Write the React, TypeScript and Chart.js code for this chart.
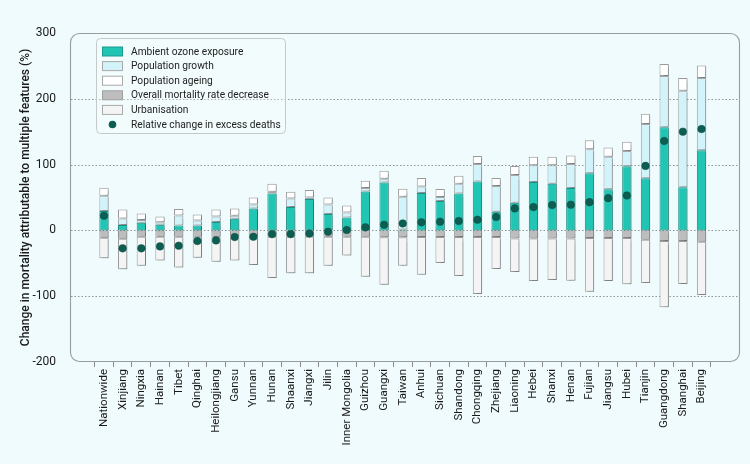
import React, { useEffect, useRef } from "react";
import { Chart, registerables } from "chart.js";

Chart.register(...registerables);

const categories = [
  "Nationwide", "Xinjiang", "Ningxia", "Hainan", "Tibet", "Qinghai", "Heilongjiang", "Gansu",
  "Yunnan", "Hunan", "Shaanxi", "Jiangxi", "Jilin", "Inner Mongolia", "Guizhou", "Guangxi",
  "Taiwan", "Anhui", "Sichuan", "Shandong", "Chongqing", "Zhejiang", "Liaoning", "Hebei",
  "Shanxi", "Henan", "Fujian", "Jiangsu", "Hubei", "Tianjin", "Guangdong", "Shanghai", "Beijing",
];

const ozoneExposure = [
  29.4, 8.1, 11.6, 8.6, 7.6, 7.6, 12.7, 17.7, 33.4, 56.2, 35.4, 47.6, 24.8, 19.7, 59.2, 72.9,
  1.5, 56.7, 44.6, 56.2, 74.4, 28.4, 42.0, 73.4, 70.9, 64.3, 86.9, 62.6, 97.5, 79.3, 156.6, 65.7, 121.7,
];
const populationGrowth = [
  23.3, 10.1, 4.1, 3.6, 15.2, 7.6, 8.6, 4.6, 6.1, 2.5, 13.2, 2.5, 14.7, 7.6, 5.1, 5.6,
  49.6, 10.1, 6.0, 14.7, 26.4, 38.9, 42.1, 25.8, 28.3, 36.5, 36.3, 49.5, 23.2, 82.3, 78.2, 146.4, 110.1,
];
const populationAgeing = [
  12.1, 13.7, 10.1, 9.1, 9.6, 9.1, 10.6, 11.1, 10.6, 12.2, 10.1, 11.2, 10.6, 10.7, 11.1, 12.1,
  12.2, 12.7, 12.2, 12.1, 12.1, 12.2, 13.6, 12.7, 12.7, 13.1, 13.7, 13.7, 14.1, 15.7, 18.2, 19.7, 18.7,
];
const mortalityDecrease = [
  -11.1, -12.7, -9.6, -9.6, -9.6, -9.6, -9.6, -9.1, -9.6, -9.6, -9.6, -9.6, -9.6, -9.6, -9.6, -10.6,
  -10.6, -10.1, -10.1, -10.1, -10.1, -10.1, -12.2, -12.2, -12.2, -12.2, -11.6, -11.6, -11.6, -14.1, -16.2, -16.2, -17.2,
];
const urbanisation = [
  -31.4, -46.5, -44.0, -36.0, -46.6, -31.9, -38.0, -36.5, -43.1, -62.8, -55.7, -55.7, -44.1, -28.4, -60.8, -71.9,
  -43.1, -57.2, -39.5, -59.3, -86.6, -48.6, -51.1, -64.8, -63.2, -64.3, -81.8, -65.2, -70.2, -65.7, -100.5, -65.1, -80.8,
];
const relativeChange = [
  22.3, -27.3, -27.3, -24.3, -23.3, -16.2, -15.2, -10.1, -9.6, -5.6, -5.6, -4.6, -2.0, 0.5, 4.6, 8.6,
  10.6, 12.2, 13.2, 14.2, 16.2, 20.3, 33.4, 35.4, 38.5, 39.0, 42.9, 49.0, 53.0, 98.0, 135.9, 150.0, 154.0,
];

const yMin = -200;
const yMax = 300;
const yStep = 100;
const xMin = -1.82;
const xMax = 34.06;

const BG = "#effbfc";
const FONT = "Roboto";

const legendItems = [
  { label: "Ambient ozone exposure", fill: "#20c5b4", stroke: "#1a9a8c", dot: false },
  { label: "Population growth", fill: "#d3f3fb", stroke: "#a9a9a9", dot: false },
  { label: "Population ageing", fill: "#ffffff", stroke: "#a9a9a9", dot: false },
  { label: "Overall mortality rate decrease", fill: "#bdbdbd", stroke: "#a0a0a0", dot: false },
  { label: "Urbanisation", fill: "#f4f4f4", stroke: "#a9a9a9", dot: false },
  { label: "Relative change in excess deaths", fill: "#0b5e51", stroke: "#0b5e51", dot: true },
];

const toXY = (arr: number[]) => arr.map((v, i) => ({ x: i, y: v }));

function roundedPath(ctx: CanvasRenderingContext2D, x: number, y: number, w: number, h: number, r: number) {
  ctx.beginPath();
  ctx.moveTo(x + r, y);
  ctx.lineTo(x + w - r, y);
  ctx.arcTo(x + w, y, x + w, y + r, r);
  ctx.lineTo(x + w, y + h - r);
  ctx.arcTo(x + w, y + h, x + w - r, y + h, r);
  ctx.lineTo(x + r, y + h);
  ctx.arcTo(x, y + h, x, y + h - r, r);
  ctx.lineTo(x, y + r);
  ctx.arcTo(x, y, x + r, y, r);
  ctx.closePath();
}

const framePlugin = {
  id: "frame",
  beforeDraw(chart: any) {
    const { ctx, width, height } = chart;
    ctx.save();
    ctx.fillStyle = BG;
    ctx.fillRect(0, 0, width, height);
    ctx.restore();
  },
  beforeDatasetsDraw(chart: any) {
    const { ctx, chartArea, scales } = chart;
    const y = scales.y;
    ctx.save();
    ctx.strokeStyle = "#8f9696";
    ctx.lineWidth = 1;
    ctx.setLineDash([1.5, 2]);
    y.ticks.forEach((t: any) => {
      if (t.value === yMin || t.value === yMax) return;
      const py = Math.round(y.getPixelForValue(t.value)) + 0.5;
      ctx.beginPath();
      ctx.moveTo(chartArea.left + 1, py);
      ctx.lineTo(chartArea.right - 1, py);
      ctx.stroke();
    });
    ctx.restore();
  },
  beforeDatasetDraw(chart: any, args: any) {
    const ds = chart.data.datasets[args.index];
    if (ds.type === "line") return;
    const ctx = chart.ctx;
    ctx.save();
    ctx.shadowColor = "rgba(0,0,0,0.18)";
    ctx.shadowOffsetX = 2;
    ctx.shadowOffsetY = 1;
    ctx.shadowBlur = 1;
  },
  afterDatasetDraw(chart: any, args: any) {
    const ds = chart.data.datasets[args.index];
    if (ds.type === "line") return;
    chart.ctx.restore();
  },
  afterDraw(chart: any) {
    const { ctx, chartArea } = chart;
    const left = Math.round(chartArea.left);
    const top = Math.round(chartArea.top);
    const right = Math.round(chartArea.right);
    const bottom = Math.round(chartArea.bottom);
    ctx.save();
    ctx.setLineDash([]);
    ctx.shadowColor = "rgba(0,0,0,0)";
    ctx.globalAlpha = 1;
    ctx.strokeStyle = "#959d9d";
    ctx.lineWidth = 1.1;
    roundedPath(ctx, left + 0.5, top + 0.5, right - left - 1, bottom - top - 1, 9);
    ctx.stroke();

    ctx.lineWidth = 1;
    ctx.fillStyle = "rgba(255,255,255,0.25)";
    ctx.strokeStyle = "#c4caca";
    roundedPath(ctx, 96.5, 38.5, 189, 95, 4);
    ctx.fill();
    ctx.stroke();
    ctx.font = `10.2px ${FONT}`;
    ctx.textBaseline = "middle";
    ctx.textAlign = "left";
    legendItems.forEach((it, i) => {
      const cy = 51.5 + i * 14.6;
      if (it.dot) {
        ctx.beginPath();
        ctx.arc(112.5, cy, 3.8, 0, Math.PI * 2);
        ctx.fillStyle = it.fill;
        ctx.fill();
      } else {
        ctx.fillStyle = it.fill;
        ctx.strokeStyle = it.stroke;
        ctx.fillRect(102.5, cy - 4.5, 20, 9);
        ctx.strokeRect(102.5, cy - 4.5, 20, 9);
      }
      ctx.fillStyle = "#222222";
      ctx.fillText(it.label, 131, cy + 0.5);
    });
    ctx.restore();
  },
};

export default function App() {
  const canvasRef = useRef<HTMLCanvasElement | null>(null);

  useEffect(() => {
    document.body.style.margin = "0";
    document.body.style.background = BG;
    const canvas = canvasRef.current;
    if (!canvas) return;

    const barCommon = {
      type: "bar" as const,
      borderWidth: 1,
      borderSkipped: false,
      barPercentage: 0.5,
      categoryPercentage: 1,
      stack: "s",
      order: 1,
    };

    const chart = new Chart(canvas, {
      type: "bar",
      data: {
        datasets: [
          { ...barCommon, label: "Ambient ozone exposure", data: toXY(ozoneExposure), backgroundColor: "#20c5b4", borderColor: "#1a8f83" },
          { ...barCommon, label: "Population growth", data: toXY(populationGrowth), backgroundColor: "#d3f3fb", borderColor: "#a3a9aa" },
          { ...barCommon, label: "Population ageing", data: toXY(populationAgeing), backgroundColor: "#ffffff", borderColor: "#9a9a9a" },
          { ...barCommon, label: "Overall mortality rate decrease", data: toXY(mortalityDecrease), backgroundColor: "#bdbdbd", borderColor: "#8f8f8f" },
          { ...barCommon, label: "Urbanisation", data: toXY(urbanisation), backgroundColor: "#f4f4f4", borderColor: "#9a9a9a" },
          {
            type: "line" as const,
            label: "Relative change in excess deaths",
            data: toXY(relativeChange),
            showLine: false,
            pointRadius: 3.8,
            pointBackgroundColor: "#0b5e51",
            pointBorderColor: "#0a4f45",
            pointBorderWidth: 0.5,
            stack: "dots",
            order: -1,
          } as any,
        ],
      },
      options: {
        responsive: false,
        animation: false,
        maintainAspectRatio: false,
        layout: { padding: { top: 33, right: 10, left: 0, bottom: 0 } },
        plugins: {
          legend: { display: false },
          tooltip: { enabled: false },
        },
        scales: {
          x: {
            type: "linear",
            stacked: true,
            offset: false,
            min: xMin,
            max: xMax,
            grid: {
              drawOnChartArea: false,
              drawTicks: true,
              tickLength: 5,
              color: "#8a8a8a",
            },
            border: { display: false },
            afterBuildTicks: (scale: any) => {
              scale.ticks = categories.map((_, i) => ({ value: i }));
            },
            ticks: {
              autoSkip: false,
              minRotation: 90,
              maxRotation: 90,
              padding: 2,
              color: "#1a1a1a",
              font: { family: FONT, size: 11.5 },
              callback: (v: any) => categories[Math.round(Number(v))] ?? "",
            },
            afterFit: (scale: any) => {
              scale.height = 102;
            },
          },
          y: {
            stacked: true,
            min: yMin,
            max: yMax,
            grid: { display: false },
            border: { display: false },
            ticks: {
              stepSize: yStep,
              padding: 6,
              color: "#1a1a1a",
              font: { family: FONT, size: 12 },
            },
            title: {
              display: true,
              text: "Change in mortality attributable to multiple features (%)",
              color: "#1a1a1a",
              font: { family: FONT, size: 12, weight: "500" },
              padding: { top: 19, bottom: 0 },
            },
            afterFit: (scale: any) => {
              scale.width = 70;
            },
          },
        },
      } as any,
      plugins: [framePlugin],
    });

    return () => chart.destroy();
  }, []);

  return (
    <div style={{ width: 750, height: 464, background: BG }}>
      <canvas ref={canvasRef} width={750} height={464} style={{ display: "block" }} />
    </div>
  );
}
